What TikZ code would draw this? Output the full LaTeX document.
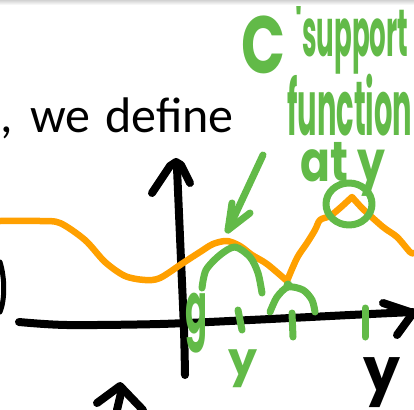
\documentclass[tikz,border=0pt]{standalone}
\usepackage{fontspec}
\setmainfont{Carlito}
\newfontfamily\handfont{Poppins}
\usepackage{graphicx}
\usetikzlibrary{positioning,calc}
\definecolor{penGreen}{RGB}{98,186,72}
\definecolor{penOrange}{RGB}{255,160,0}

\begin{document}
\begin{tikzpicture}[
  x=1pt,y=-1pt,
  ink/.style={line width=7pt,line cap=round,line join=round},
  axis/.style={ink,black,line width=8pt},
  graph/.style={ink,penOrange,line width=6.5pt},
  note/.style={ink,penGreen},
  hand/.style={inner sep=0pt,anchor=north west,text=penGreen,font=\handfont\bfseries}
]
\useasboundingbox (0,0) rectangle (414,409);
\shade[top color=gray!35,bottom color=white] (0,0) rectangle (414,5);

% slide text
\node[anchor=base east,inner sep=0pt,font=\fontsize{50}{60}\selectfont]
  (intro) at (234,132) {,\hskip 17pt we\hskip 15pt define};

% axes
\draw[axis] plot[smooth] coordinates
  {(19,322) (67,325) (160,324) (250,320) (350,315) (413,312)};
\draw[axis] (383,303) -- (413,313) -- (397,335);
\draw[axis] plot[smooth] coordinates
  {(185,375) (184,330) (181,260) (177,168)};
\draw[axis] (152,193) -- (170,166) -- (176,162) -- (181,165) -- (190,183);
\draw[axis,line width=5pt] (0,262) .. controls (5,278) and (5,300) .. (0,312);
\draw[axis] (97,403) -- (120,386) -- (143,410);
\draw[axis] (121,393) -- (117,410);
\node[hand,text=black] (lblY) at (363,357) {\resizebox*{37pt}{50pt}{y}};

% the function
\draw[graph] plot[smooth] coordinates
  {(0,221) (40,221) (60,223) (85,240) (105,262) (125,276) (145,280)
   (160,278) (183,263) (200,252) (213,244) (227,241) (240,246)
   (252,255) (267,264) (287,281)}
  -- plot[smooth] coordinates
  {(287,281) (297,258) (307,243) (315,230) (320,220) (330,216)
   (340,208) (352,197)}
  -- plot[smooth] coordinates
  {(352,197) (363,209) (383,227) (397,237) (410,252) (414,253)};

% bumps under the graph
\draw[note] plot[smooth] coordinates
  {(202,288) (206,270) (220,255) (235,247) (250,257) (258,273) (262,293)};
\draw[note] plot[smooth] coordinates
  {(270,312) (277,297) (288,287) (303,290) (312,300) (315,312)};
\fill[penGreen] (288,285) circle (4.5);
\draw[note] (238,310) -- (242,330);
\draw[note] (292,313) -- (293,337);
\draw[note] (365,308) -- (365,337);
\node[hand] (lblg) at (185,293) {\resizebox*{22pt}{60pt}{g}};
\node[hand] (lbly) at (228,350) {\resizebox*{29pt}{38pt}{y}};

% peak and note
\draw[note] (349,204) ellipse (23 and 21);
\coordinate (tail) at (263,155);
\coordinate (tip) at (228,230);
\draw[note] (tail) -- (tip);
\draw[note] (232,203) -- (tip) -- (250,213);
\node[hand] (lblC) at (241,16) {\resizebox*{44pt}{58pt}{C}};
\node[hand] (lblprime) at (295,6) {\resizebox*{7pt}{30pt}{\textquotesingle}};
\node[hand] (lblsupport) at (302,10) {\resizebox*{106pt}{64pt}{support}};
\node[hand] (lblfunction) at (287,74) {\resizebox*{125pt}{62pt}{function}};
\node[hand] (lblat) at (300,142) {\resizebox*{85pt}{54pt}{at y}};
\end{tikzpicture}
\end{document}
